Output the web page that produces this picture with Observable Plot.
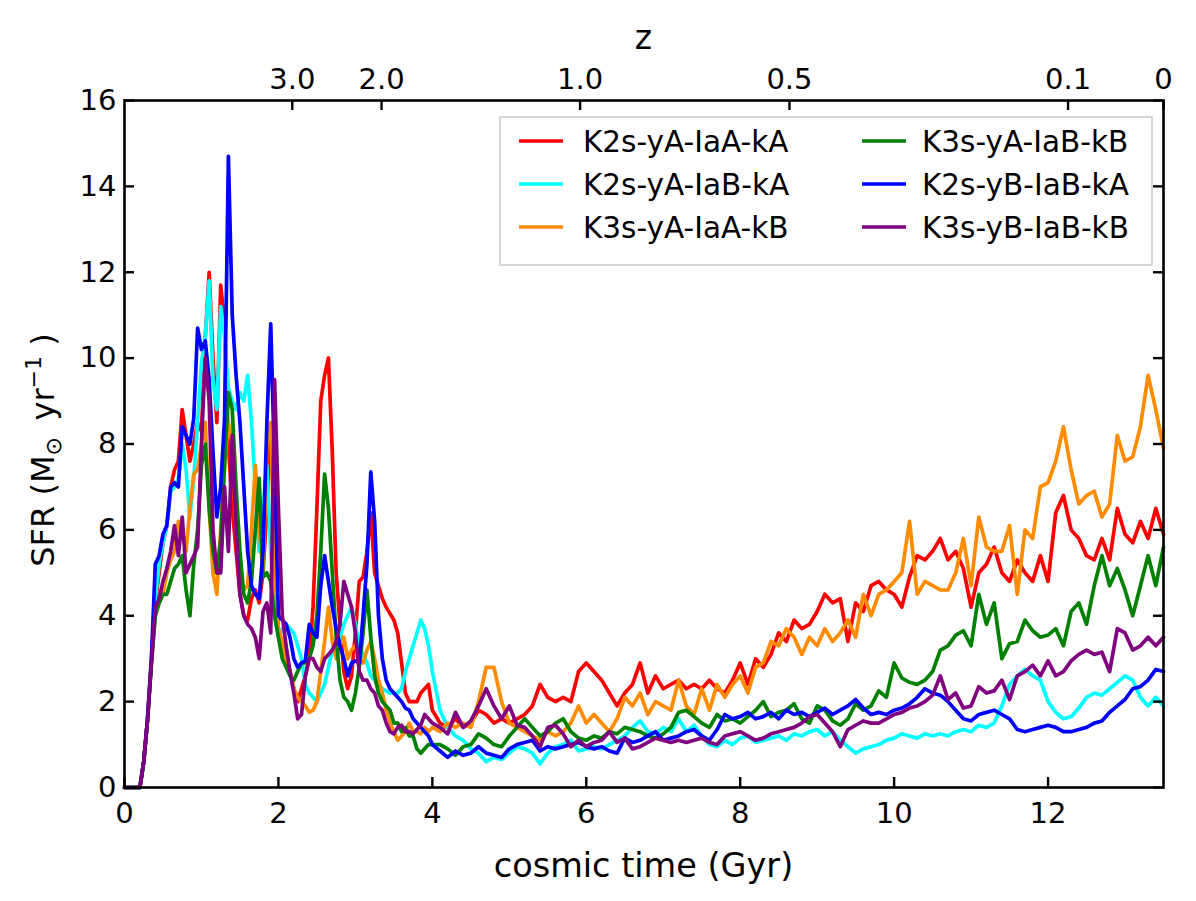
<!DOCTYPE html>
<html><head><meta charset="utf-8">
<script src="https://cdn.jsdelivr.net/npm/d3@7"></script>
<script src="https://cdn.jsdelivr.net/npm/@observablehq/plot@0.6"></script>
<style>html,body{margin:0;padding:0;background:#fff}#chart{width:1196px;height:901px}</style>
</head><body><div id="chart"></div>
<script>
// ---------- data ----------
const timesEarly = [0,0.2,0.25,0.3,0.35,0.4,0.45,0.5,0.55,0.6,
  0.65,0.7,0.75,0.8,0.85,0.9,0.95,1.0,1.05,1.1,
  1.15,1.2,1.25,1.3,1.35,1.4,1.45,1.5,1.55,1.6,
  1.65,1.7,1.75,1.8,1.85,1.9,1.95,2.0,2.05,2.1,
  2.15,2.2,2.25,2.3,2.35,2.4,2.45,2.5,2.55,2.6,
  2.65,2.7,2.75,2.8,2.85,2.9,2.95,3.0,3.05,3.1,
  3.15,3.2,3.25,3.3,3.35,3.4,3.45,3.5,3.55,3.6,
  3.65,3.7,3.75,3.8,3.85,3.9,3.95,4.0];
const timesLate = [4.1,4.2,4.3,4.4,4.5,4.6,4.7,4.8,4.9,5.0,
  5.1,5.2,5.3,5.4,5.5,5.6,5.7,5.8,5.9,6.0,
  6.1,6.2,6.3,6.4,6.5,6.6,6.7,6.8,6.9,7.0,
  7.1,7.2,7.3,7.4,7.5,7.6,7.7,7.8,7.9,8.0,
  8.1,8.2,8.3,8.4,8.5,8.6,8.7,8.8,8.9,9.0,
  9.1,9.2,9.3,9.4,9.5,9.6,9.7,9.8,9.9,10.0,
  10.1,10.2,10.3,10.4,10.5,10.6,10.7,10.8,10.9,11.0,
  11.1,11.2,11.3,11.4,11.5,11.6,11.7,11.8,11.9,12.0,
  12.1,12.2,12.3,12.4,12.5,12.6,12.7,12.8,12.9,13.0,
  13.1,13.2,13.3,13.4,13.5];

const seriesNames = ["K2s-yA-IaA-kA","K2s-yA-IaB-kA","K3s-yA-IaA-kB","K3s-yA-IaB-kB","K2s-yB-IaB-kA","K3s-yB-IaB-kB"];
const seriesColors = ["#ff0000","#00ffff","#ff8c00","#008000","#0000ff","#800080"];

const sfrRedEarly = [0,0,0.6,1.6,3.0,4.3,5.0,5.7,6.1,7.0,
  7.4,7.6,8.8,8.2,7.6,8.0,8.5,8.3,10.5,12.0,
  10.0,8.5,11.7,10.8,8.0,6.5,5.5,4.5,4.0,3.9,
  4.4,4.6,4.3,5.0,6.5,8.5,6.0,3.6,3.3,3.0,
  2.7,2.3,2.0,2.3,2.6,3.0,4.2,6.5,9.0,9.6,
  10.0,7.8,5.0,3.8,2.7,2.3,2.6,3.6,4.8,4.9,
  5.5,6.4,5.0,4.7,4.4,4.2,4.05,3.9,3.6,2.9,
  2.2,2.0,2.0,2.0,2.2,2.3,2.4,1.8];
const sfrRedLate = [1.5,1.4,1.6,1.4,1.5,1.8,1.7,1.5,1.6,1.5,
  1.6,1.7,1.9,2.4,2.1,2.0,2.1,2.0,2.7,2.9,
  2.7,2.5,2.2,1.9,2.2,2.4,2.9,2.2,2.6,2.3,
  2.4,2.5,2.3,2.4,2.3,2.5,2.3,2.2,2.5,2.9,
  2.4,3.0,2.8,3.1,3.6,3.4,3.9,3.7,3.8,4.1,
  4.5,4.3,4.4,3.4,4.3,4.1,4.7,4.8,4.6,4.5,
  4.2,4.9,5.4,5.3,5.5,5.8,5.3,5.5,5.1,4.2,
  5.0,5.2,5.6,5.0,4.8,5.3,5.0,4.8,5.4,4.8,
  6.4,6.8,6.0,5.8,5.4,5.3,5.8,5.3,6.5,5.9,
  5.7,6.2,5.8,6.5,5.9];

const sfrCyanEarly = [0,0,0.6,1.6,3.0,4.4,5.2,5.7,6.1,6.9,
  7.0,7.2,8.0,7.4,6.3,7.2,8.5,9.9,10.5,11.8,
  9.5,8.8,11.2,10.5,9.3,9.0,8.8,9.2,9.0,9.6,
  8.5,7.0,5.5,6.5,7.5,5.5,4.0,3.5,3.7,3.8,
  3.7,3.6,3.3,3.0,2.4,2.2,2.1,2.0,2.2,2.4,
  2.8,3.2,3.4,3.5,3.8,4.0,4.2,3.8,3.3,3.1,
  2.9,2.6,2.5,2.4,2.3,2.25,2.2,2.2,2.2,2.3,
  2.7,3.0,3.3,3.6,3.9,3.7,3.3,2.7];
const sfrCyanLate = [1.8,1.4,1.2,1.1,0.9,0.8,0.6,0.7,0.65,0.8,
  0.95,0.9,0.8,0.55,0.8,0.95,1.0,1.1,0.85,0.9,
  0.95,0.9,1.0,1.1,1.2,1.4,1.55,1.3,1.25,1.4,
  1.3,1.6,1.3,1.45,1.2,1.0,0.95,1.1,1.0,1.15,
  1.2,1.05,1.1,1.15,1.2,1.1,1.25,1.2,1.3,1.35,
  1.2,1.3,1.1,0.95,0.8,0.9,0.95,1.0,1.1,1.15,
  1.25,1.2,1.15,1.25,1.2,1.25,1.2,1.3,1.35,1.3,
  1.45,1.4,1.5,1.9,2.4,2.6,2.75,2.6,2.5,2.0,
  1.75,1.6,1.65,1.85,2.1,2.2,2.15,2.3,2.45,2.6,
  2.5,2.1,1.9,2.1,1.9];

const sfrOrangeEarly = [0,0,0.6,1.6,2.9,4.0,4.3,4.5,5.0,5.3,
  5.5,6.2,6.0,5.5,6.5,7.3,7.4,8.0,8.5,6.5,
  5.0,4.5,6.0,7.5,8.5,8.0,6.0,5.0,4.6,4.7,
  6.0,7.5,6.0,5.0,8.0,8.5,5.0,3.7,3.4,3.0,
  2.7,2.3,2.1,2.0,1.9,1.75,1.8,2.0,2.7,3.4,
  4.2,3.4,3.0,3.3,3.5,3.0,3.2,3.3,3.0,2.9,
  3.2,3.4,3.0,2.5,2.2,1.8,1.5,1.3,1.1,1.2,
  1.3,1.5,1.3,1.3,1.25,1.4,1.3,1.4];
const sfrOrangeLate = [1.3,1.5,1.4,1.5,1.4,2.0,2.8,2.8,2.0,1.5,
  1.4,1.3,1.2,1.1,1.3,1.2,1.3,1.5,1.9,1.5,
  1.7,1.5,1.3,1.6,2.1,1.9,2.2,1.7,2.0,1.9,
  1.8,2.5,1.9,1.7,2.3,1.8,2.4,2.1,2.4,2.6,
  2.2,2.8,2.9,3.4,3.3,3.7,3.5,3.1,3.5,3.3,
  3.7,3.4,3.6,3.9,3.5,4.5,4.0,4.5,4.6,4.8,
  5.0,6.2,4.5,4.8,4.7,4.6,4.6,5.0,5.8,4.7,
  6.3,5.6,5.5,5.5,6.1,4.5,6.0,5.8,7.0,7.1,
  7.6,8.4,7.4,6.6,6.8,6.9,6.3,6.6,8.2,7.6,
  7.7,8.4,9.6,8.8,7.9];

const sfrGreenEarly = [0,0,0.6,1.6,2.9,4.0,4.3,4.5,4.5,4.8,
  5.1,5.2,5.4,4.6,4.0,5.2,6.0,7.5,8.0,6.5,
  5.5,5.0,5.8,7.5,9.2,8.8,7.0,5.5,4.5,4.3,
  4.8,6.0,7.2,4.9,5.0,4.8,4.0,3.5,3.0,2.8,
  2.6,2.5,2.7,2.9,2.9,3.0,3.3,4.0,5.5,7.3,
  6.5,5.0,3.5,2.5,2.1,2.0,1.8,2.2,2.8,3.6,
  4.6,3.5,2.6,2.2,2.0,1.9,1.8,1.5,1.5,1.3,
  1.4,1.2,1.2,0.9,0.8,0.9,1.0,1.0];
const sfrGreenLate = [1.0,0.9,0.75,0.95,1.0,1.25,1.15,1.0,0.95,1.2,
  1.4,1.6,1.4,1.2,1.3,1.5,1.6,1.3,1.15,1.1,
  1.2,1.15,1.3,1.25,1.4,1.35,1.3,1.2,1.15,1.25,
  1.4,1.75,1.8,1.65,1.5,1.4,1.7,1.55,1.6,1.5,
  1.65,1.8,2.0,1.65,1.75,1.8,1.95,1.6,1.5,1.9,
  1.8,1.55,1.45,1.6,1.95,1.8,1.9,2.25,2.1,2.9,
  2.55,2.45,2.4,2.5,2.7,3.2,3.3,3.55,3.65,3.3,
  4.5,3.8,4.3,3.0,3.35,3.4,3.9,3.65,3.5,3.55,
  3.7,3.3,4.1,4.3,3.8,4.7,5.4,4.7,5.1,4.6,
  4.0,4.7,5.4,4.7,5.6];

const sfrBlueEarly = [0,0,0.6,1.6,3.0,5.2,5.4,5.9,6.1,7.0,
  7.1,7.0,8.4,8.2,8.0,8.6,10.7,10.2,10.4,9.5,
  7.8,6.3,7.0,8.6,14.7,11.0,9.6,8.5,7.0,5.5,
  4.7,4.5,4.4,5.5,8.5,10.8,7.5,4.0,3.9,3.8,
  3.5,3.0,2.8,2.9,2.95,3.8,3.6,3.5,4.7,5.4,
  4.8,4.2,3.7,3.3,3.0,2.6,2.9,2.95,2.9,4.0,
  5.2,7.35,6.2,4.0,3.0,2.5,2.3,2.2,2.1,2.0,
  1.85,1.8,1.6,1.5,1.4,1.3,1.2,1.0];
const sfrBlueLate = [0.85,0.7,0.85,0.75,0.8,0.95,0.8,0.75,0.7,0.9,
  1.0,1.05,1.1,0.85,0.95,0.9,0.95,1.0,1.05,0.95,
  0.9,0.95,0.85,0.8,1.15,1.05,1.1,1.2,1.3,1.1,
  1.15,1.2,1.3,1.35,1.2,1.1,1.35,1.7,1.6,1.65,
  1.75,1.6,1.65,1.75,1.6,1.8,1.7,1.75,1.65,1.75,
  1.85,1.7,1.8,1.9,2.05,1.85,1.7,1.75,1.7,1.8,
  1.85,1.95,2.1,2.3,2.2,2.15,2.0,1.8,1.6,1.55,
  1.7,1.75,1.8,1.7,1.6,1.35,1.3,1.35,1.4,1.45,
  1.4,1.3,1.3,1.35,1.4,1.5,1.55,1.75,1.9,2.05,
  2.3,2.35,2.5,2.75,2.7];

const sfrPurpleEarly = [0,0,0.6,1.6,2.9,4.2,4.4,4.8,5.1,5.5,
  6.1,5.4,6.3,5.0,5.2,5.4,5.6,8.0,10.0,9.0,
  6.0,5.0,5.0,7.0,5.5,8.2,6.0,4.5,4.0,3.8,
  3.7,3.5,3.0,4.1,4.3,3.6,9.5,6.5,4.0,3.3,
  2.7,2.2,1.6,1.7,2.6,3.0,3.0,2.8,2.7,3.0,
  3.1,3.2,3.4,3.8,4.8,4.5,4.2,3.6,2.7,2.5,
  2.5,2.3,2.2,1.9,1.8,1.5,1.3,1.25,1.4,1.45,
  1.3,1.3,1.25,1.35,1.45,1.7,1.6,1.5];
const sfrPurpleLate = [1.4,1.25,1.75,1.4,1.55,1.9,2.3,1.9,1.6,1.9,
  1.45,1.4,1.2,0.95,1.4,1.45,1.25,0.95,1.1,0.95,
  1.05,1.1,1.3,1.05,1.15,0.9,0.95,1.05,1.15,1.1,
  1.05,1.1,1.05,1.1,1.15,1.05,1.0,1.2,1.25,1.3,
  1.2,1.1,1.15,1.25,1.3,1.35,1.4,1.5,1.65,1.7,
  1.5,1.3,0.95,1.35,1.45,1.55,1.5,1.5,1.6,1.7,
  1.75,1.85,1.9,2.0,2.15,2.6,2.05,2.2,1.85,1.9,
  2.35,2.2,2.25,2.5,2.05,2.6,2.7,2.85,2.6,2.95,
  2.6,2.7,2.95,3.1,3.2,3.1,3.15,2.7,3.7,3.6,
  3.2,3.3,3.5,3.3,3.5];

const xTickValues = [0,2,4,6,8,10,12];
const yTickValues = [0,2,4,6,8,10,12,14,16];
const zTickTimes = [2.18,3.34,5.92,8.64,12.26,13.5];
const zTickLabels = ["3.0","2.0","1.0","0.5","0.1","0"];

// ---------- build ----------
const times = timesEarly.concat(timesLate);
const seriesValues = [
  sfrRedEarly.concat(sfrRedLate),
  sfrCyanEarly.concat(sfrCyanLate),
  sfrOrangeEarly.concat(sfrOrangeLate),
  sfrGreenEarly.concat(sfrGreenLate),
  sfrBlueEarly.concat(sfrBlueLate),
  sfrPurpleEarly.concat(sfrPurpleLate)
];
seriesValues.forEach((vals, i) => {
  if (vals.length !== times.length) throw new Error("length mismatch " + seriesNames[i] + " " + vals.length + " vs " + times.length);
});
const tables = seriesValues.map((vals, i) => vals.map((v, j) => ({t: times[j], v, s: seriesNames[i]})));
const zLabelOf = new Map(zTickTimes.map((t, i) => [t, zTickLabels[i]]));

const W = 1196, H = 901, mL = 124, mR = 33, mT = 100, mB = 114;
const innerW = W - mL - mR, innerH = H - mT - mB, tick = 10;

const svg = Plot.plot({
  width: W, height: H,
  marginLeft: mL, marginRight: mR, marginTop: mT, marginBottom: mB,
  x: {domain: [0, 13.5]},
  y: {domain: [0, 16]},
  style: {fontFamily: "DejaVu Sans", fontSize: "29px", background: "#fff", color: "#000"},
  marks: [
    ...tables.map((rows, i) => Plot.line(rows, {x: "t", y: "v", stroke: seriesColors[i], strokeWidth: 3.7, strokeLinejoin: "round", strokeLinecap: "round"})),
    Plot.ruleX(xTickValues, {x: d => d, insetTop: innerH - tick, stroke: "#000", strokeWidth: 2.4}),
    Plot.ruleX(zTickTimes, {x: d => d, insetBottom: innerH - tick, stroke: "#000", strokeWidth: 2.4}),
    Plot.ruleY(yTickValues, {y: d => d, insetRight: innerW - tick, stroke: "#000", strokeWidth: 2.4}),
    Plot.ruleY(yTickValues, {y: d => d, insetLeft: innerW - tick, stroke: "#000", strokeWidth: 2.4}),
    Plot.frame({stroke: "#000", strokeWidth: 2.6}),
    Plot.axisX(xTickValues, {anchor: "bottom", tickSize: 0, tickPadding: 15, label: null, tickFormat: d => String(d)}),
    Plot.axisX(zTickTimes, {anchor: "top", tickSize: 0, tickPadding: 12, label: null, tickFormat: d => zLabelOf.get(d)}),
    Plot.axisY(yTickValues, {anchor: "left", tickSize: 0, tickPadding: 8, label: null, tickFormat: d => String(d)})
  ]
});
document.getElementById("chart").appendChild(svg);

// ---------- labels and legend ----------
const s = d3.select(svg);
const font = "DejaVu Sans";
s.append("text").attr("x", mL + innerW / 2).attr("y", 877).attr("text-anchor", "middle")
  .attr("font-family", font).attr("font-size", 33.5).attr("fill", "#000").text("cosmic time (Gyr)");
s.append("text").attr("x", mL + innerW / 2).attr("y", 49).attr("text-anchor", "middle")
  .attr("font-family", font).attr("font-size", 33).attr("fill", "#000").text("z");
const yl = s.append("text").attr("transform", "translate(54,450) rotate(-90)").attr("text-anchor", "middle")
  .attr("font-family", font).attr("font-size", 32).attr("fill", "#000");
yl.append("tspan").text("SFR (M");
yl.append("tspan").attr("font-size", 22).attr("dy", 7).text("\u2299");
yl.append("tspan").attr("dy", -7).text("\u2009 yr");
yl.append("tspan").attr("font-size", 22).attr("dy", -13).text("\u22121");
yl.append("tspan").attr("dy", 13).text(" )");

const lg = s.append("g");
lg.append("rect").attr("x", 500).attr("y", 117).attr("width", 652).attr("height", 148)
  .attr("fill", "#fff").attr("stroke", "#cccccc").attr("stroke-width", 1.6);
seriesNames.forEach((name, i) => {
  const col = i < 3 ? 0 : 1, row = i % 3;
  const y = 141 + 43 * row;
  const lx = col ? 862 : 519;
  const tx = col ? 922 : 583;
  lg.append("line").attr("x1", lx).attr("x2", lx + 44).attr("y1", y).attr("y2", y)
    .attr("stroke", seriesColors[i]).attr("stroke-width", 3.4);
  lg.append("text").attr("x", tx).attr("y", y + 11).attr("text-anchor", "start")
    .attr("font-family", font).attr("font-size", 29.5).attr("fill", "#000").text(name);
});
</script>
</body></html>
